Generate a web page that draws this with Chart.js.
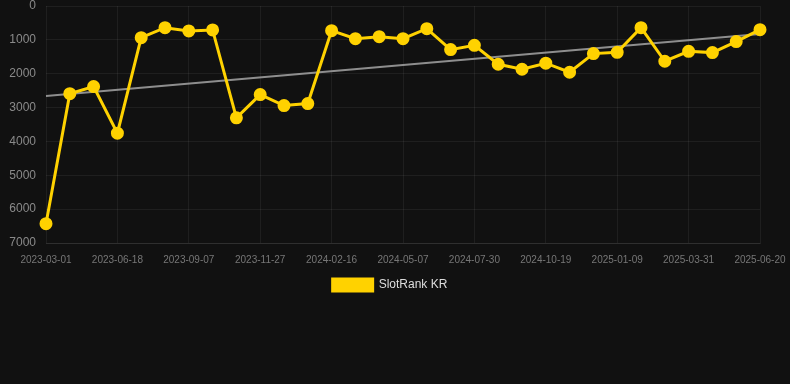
<!DOCTYPE html>
<html>
<head>
<meta charset="utf-8">
<script src="https://cdn.jsdelivr.net/npm/chart.js@4/dist/chart.umd.min.js"></script>
<style>
  html, body { margin: 0; padding: 0; background: #111111; }
  #wrap { position: relative; width: 790px; height: 301px; }
</style>
</head>
<body>
<div id="wrap"><canvas id="c"></canvas></div>
<script>
const dates = [
  "2023-03-01","2023-04-06","2023-05-12","2023-06-18","2023-07-14","2023-08-11",
  "2023-09-07","2023-10-04","2023-10-31","2023-11-27","2023-12-24","2024-01-20",
  "2024-02-16","2024-03-13","2024-04-10","2024-05-07","2024-06-04","2024-07-02",
  "2024-07-30","2024-08-26","2024-09-22","2024-10-19","2024-11-15","2024-12-13",
  "2025-01-09","2025-02-04","2025-03-03","2025-03-31","2025-04-27","2025-05-24",
  "2025-06-20"
];
const slotRankKR = [
  6430, 2590, 2380, 3755, 935, 640,
  737, 708, 3304, 2616, 2940, 2882,
  728, 964, 905, 964, 669, 1288,
  1161, 1720, 1868, 1690, 1957, 1406,
  1367, 640, 1632, 1338, 1377, 1052,
  698
];
const trendStart = 2655;
const trendEnd = 830;
const yTicks = [0, 1000, 2000, 3000, 4000, 5000, 6000, 7000];

const trend = dates.map((d, i) => i === 0 ? trendStart : (i === dates.length - 1 ? trendEnd : null));
const FONT = 'Liberation Sans, Arial, sans-serif';

new Chart(document.getElementById('c'), {
  type: 'line',
  data: {
    labels: dates,
    datasets: [
      {
        label: 'SlotRank KR',
        data: slotRankKR,
        borderColor: '#ffd200',
        backgroundColor: '#ffd200',
        borderWidth: 3,
        pointRadius: 5,
        pointHoverRadius: 5,
        pointBackgroundColor: '#ffd200',
        pointBorderColor: '#ffd200',
        tension: 0,
        clip: false,
        order: 1
      },
      {
        label: 'trend',
        data: trend,
        spanGaps: true,
        borderColor: 'rgba(165,165,165,0.85)',
        borderWidth: 2,
        pointRadius: 0,
        pointHoverRadius: 0,
        fill: false,
        order: 2
      }
    ]
  },
  options: {
    responsive: true,
    maintainAspectRatio: false,
    animation: false,
    layout: { autoPadding: false, padding: { left: 0, right: 10, top: 0, bottom: 0 } },
    plugins: {
      legend: {
        position: 'bottom',
        labels: {
          color: '#dddddd',
          boxWidth: 40,
          boxHeight: 12,
          padding: 5,
          font: { family: FONT, size: 12 },
          filter: (item) => item.text !== 'trend'
        }
      },
      tooltip: { enabled: false }
    },
    scales: {
      x: {
        grid: { color: 'rgba(255,255,255,0.06)', drawTicks: false },
        border: { color: 'rgba(255,255,255,0.08)' },
        ticks: {
          color: '#777777',
          font: { family: FONT, size: 10 },
          maxRotation: 0,
          autoSkip: true,
          maxTicksLimit: 11,
          padding: 11
        },
        afterFit: (s) => { s.paddingRight = 30; s.paddingLeft = 20; s.height -= 3; }
      },
      y: {
        reverse: true,
        min: yTicks[0],
        max: yTicks[yTicks.length - 1],
        grid: { color: 'rgba(255,255,255,0.06)', drawTicks: true, tickLength: 10, tickColor: 'rgba(0,0,0,0)' },
        border: { display: false },
        afterBuildTicks: (axis) => { axis.ticks = yTicks.map(v => ({ value: v })); },
        afterFit: (s) => { s.width = 46; },
        ticks: {
          color: '#8a8a8a',
          font: { family: FONT, size: 12, lineHeight: 1 },
          padding: 0,
          callback: (v) => String(v)
        }
      }
    }
  }
});
</script>
</body>
</html>
